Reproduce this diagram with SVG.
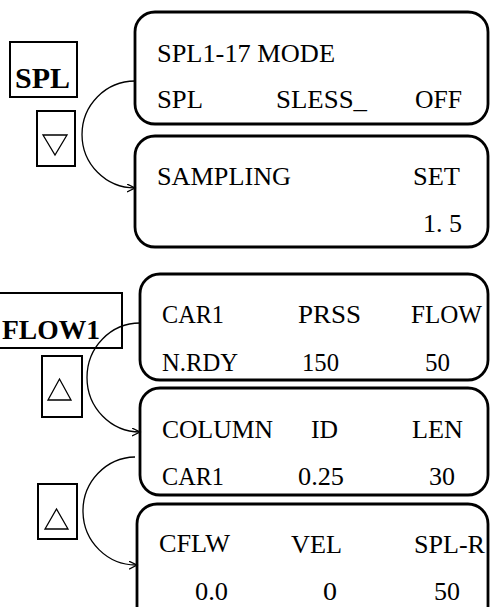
<svg xmlns="http://www.w3.org/2000/svg" width="490" height="607" viewBox="0 0 490 607">
<style>
.scr{fill:#fff;stroke:#000;stroke-width:2.8}
.key{fill:#fff;stroke:#000;stroke-width:2}
.tri{fill:none;stroke:#000;stroke-width:1.3}
.arc{fill:none;stroke:#000;stroke-width:1.3}
</style>
<defs>
<marker id="ah" markerWidth="10" markerHeight="10" refX="8" refY="4" orient="auto" markerUnits="userSpaceOnUse">
<path d="M0,0 L8,4 L0,8" fill="none" stroke="#000" stroke-width="1.3"/>
</marker>
</defs>
<rect width="490" height="607" fill="#fff"/>
<g font-family="Liberation Serif, Times New Roman, serif" font-size="25" fill="#000">
<g id="screen1">
<rect class="scr" x="135" y="12" width="353" height="112" rx="20"/>
<text x="157" y="62" textLength="178" lengthAdjust="spacingAndGlyphs">SPL1-17 MODE</text>
<text x="157" y="108" textLength="46" lengthAdjust="spacingAndGlyphs">SPL</text>
<text x="276" y="108" textLength="91" lengthAdjust="spacingAndGlyphs">SLESS_</text>
<text x="415" y="108" textLength="47" lengthAdjust="spacingAndGlyphs">OFF</text>
</g>
<g id="screen2">
<rect class="scr" x="135" y="136" width="353" height="111" rx="20"/>
<text x="157" y="185" textLength="134" lengthAdjust="spacingAndGlyphs">SAMPLING</text>
<text x="413" y="185" textLength="47" lengthAdjust="spacingAndGlyphs">SET</text>
<text x="423" y="232" textLength="39" lengthAdjust="spacingAndGlyphs">1. 5</text>
</g>
<g id="screen3">
<rect class="scr" x="140" y="274" width="348" height="106" rx="20"/>
<text x="162" y="323" textLength="62" lengthAdjust="spacingAndGlyphs">CAR1</text>
<text x="298" y="323" textLength="63" lengthAdjust="spacingAndGlyphs">PRSS</text>
<text x="411" y="323" textLength="71" lengthAdjust="spacingAndGlyphs">FLOW</text>
<text x="162" y="371" textLength="76" lengthAdjust="spacingAndGlyphs">N.RDY</text>
<text x="302" y="371" textLength="37" lengthAdjust="spacingAndGlyphs">150</text>
<text x="425" y="371" textLength="25" lengthAdjust="spacingAndGlyphs">50</text>
</g>
<g id="screen4">
<rect class="scr" x="140" y="388" width="348" height="107" rx="20"/>
<text x="162" y="438" textLength="111" lengthAdjust="spacingAndGlyphs">COLUMN</text>
<text x="311" y="438" textLength="27" lengthAdjust="spacingAndGlyphs">ID</text>
<text x="412" y="438" textLength="51" lengthAdjust="spacingAndGlyphs">LEN</text>
<text x="162" y="485" textLength="62" lengthAdjust="spacingAndGlyphs">CAR1</text>
<text x="298" y="485" textLength="46" lengthAdjust="spacingAndGlyphs">0.25</text>
<text x="429" y="485" textLength="26" lengthAdjust="spacingAndGlyphs">30</text>
</g>
<g id="screen5">
<rect class="scr" x="137" y="504" width="351" height="130" rx="20"/>
<text x="159" y="552" textLength="71" lengthAdjust="spacingAndGlyphs">CFLW</text>
<text x="291" y="553" textLength="51" lengthAdjust="spacingAndGlyphs">VEL</text>
<text x="414" y="553" textLength="71" lengthAdjust="spacingAndGlyphs">SPL-R</text>
<text x="195" y="600" textLength="33" lengthAdjust="spacingAndGlyphs">0.0</text>
<text x="323" y="600" textLength="14" lengthAdjust="spacingAndGlyphs">0</text>
<text x="434" y="600" textLength="26" lengthAdjust="spacingAndGlyphs">50</text>
</g>
<g id="key-spl">
<rect class="key" x="10" y="42" width="67" height="55"/>
<text x="15" y="88" font-size="30" font-weight="bold" textLength="55" lengthAdjust="spacingAndGlyphs">SPL</text>
</g>
<g id="key-down1">
<rect class="key" x="37" y="111" width="38" height="55"/>
<path class="tri" d="M43,135 L67,135 L55,155 Z"/>
</g>
<g id="key-flow1">
<rect class="key" x="-2" y="293" width="124" height="55"/>
<text x="2" y="339" font-size="28" font-weight="bold" textLength="98" lengthAdjust="spacingAndGlyphs">FLOW1</text>
</g>
<g id="key-up1">
<rect class="key" x="42" y="356" width="40" height="61"/>
<path class="tri" d="M48,400 L71,400 L59.5,379 Z"/>
</g>
<g id="key-up2">
<rect class="key" x="38" y="484" width="39" height="55"/>
<path class="tri" d="M45,529 L68,529 L56.5,509 Z"/>
</g>
</g>
<g id="connectors">
<path class="arc" d="M135,81 A53,53.5 0 0 0 135,188" marker-end="url(#ah)"/>
<path class="arc" d="M140,323 A53,54.5 0 0 0 140,432" marker-end="url(#ah)"/>
<path class="arc" d="M135,457 A53,54 0 0 0 137,565" marker-end="url(#ah)"/>
</g>
</svg>
